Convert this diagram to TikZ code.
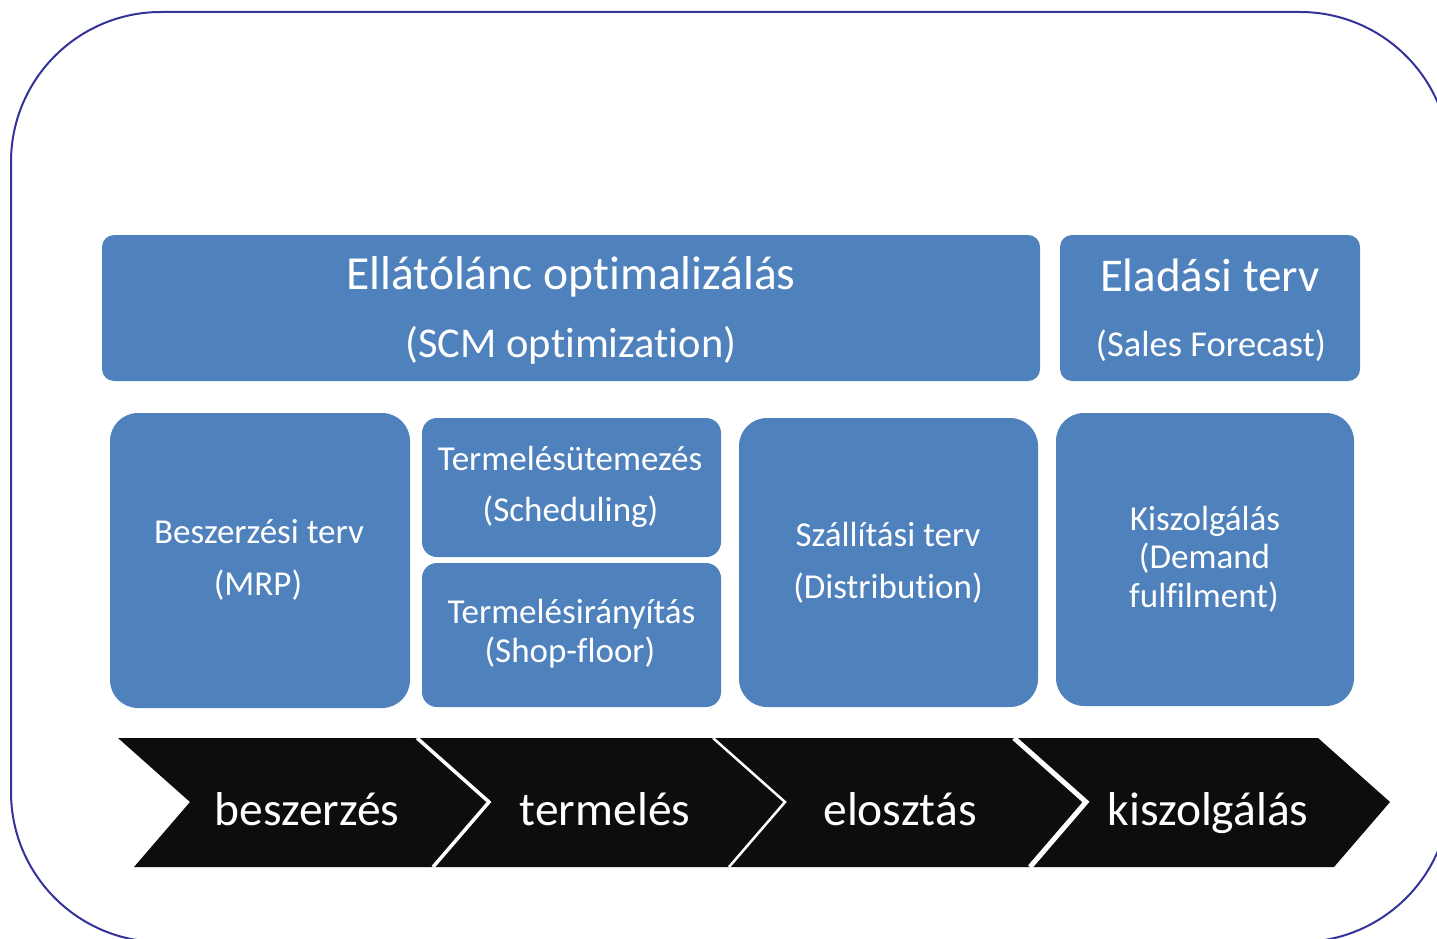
\documentclass[tikz,border=0pt]{standalone}
\usepackage{fontspec}
\setmainfont{Carlito}[RawFeature={-liga;-clig}]
\definecolor{boxblue}{HTML}{4F81BD}
\definecolor{rimblue}{HTML}{333399}
\definecolor{chevblack}{HTML}{0D0D0D}
\begin{document}
\begin{tikzpicture}[x=1pt,y=-1pt,
  box/.style={fill=boxblue, draw=none, inner sep=0pt},
  lbl/.style={text=white, anchor=base, inner sep=0pt},
  big/.style={font=\fontsize{47.5}{50}\selectfont},
  mid/.style={font=\fontsize{35}{38}\selectfont},
  chevshape/.style={fill=chevblack, draw=none},
  sep/.style={draw=white, line join=miter},
  rim/.style={draw=rimblue, line width=2pt, rounded corners=150pt}
]
\useasboundingbox (0,0) rectangle (1437,939);
\fill[white] (0,0) rectangle (1437,939);
\begin{scope}
  \clip (0,0) rectangle (1437,939);
  \draw[rim] (11,12) rectangle (1450,942);
\end{scope}

% top row
\node[box, rounded corners=12pt, minimum width=938pt, minimum height=146pt] (scm) at (571,308) {};
\node[box, rounded corners=12pt, minimum width=300pt, minimum height=146pt] (sales) at (1210,308) {};
\node[lbl, big] (scm1) at (571,289) {Ellátólánc optimalizálás};
\node[lbl, font=\fontsize{42.5}{45}\selectfont] (scm2) at (571,357) {(SCM optimization)};
\node[lbl, font=\fontsize{47}{50}\selectfont] (sales1) at (1210,291) {Eladási terv};
\node[lbl, font=\fontsize{36.5}{40}\selectfont] (sales2) at (1211,356) {(Sales Forecast)};

% middle row
\node[box, rounded corners=28pt, minimum width=300pt, minimum height=295pt] (mrp) at (260,560.5) {};
\node[box, rounded corners=15pt, minimum width=299pt, minimum height=139pt] (sched) at (571.5,487.5) {};
\node[box, rounded corners=15pt, minimum width=299pt, minimum height=144pt] (shop) at (571.5,635) {};
\node[box, rounded corners=28pt, minimum width=299pt, minimum height=289pt] (distr) at (888.5,562.5) {};
\node[box, rounded corners=28pt, minimum width=298pt, minimum height=293pt] (dem) at (1205,559.5) {};

\node[lbl, mid] (mrp1) at (259,543) {Beszerzési terv};
\node[lbl, mid] (mrp2) at (258,595) {(MRP)};
\node[lbl, mid] (sched1) at (570,470) {Termelésütemezés};
\node[lbl, mid] (sched2) at (570.5,521) {(Scheduling)};
\node[lbl, mid] (shop1) at (571.5,623) {Termelésirányítás};
\node[lbl, mid] (shop2) at (570,662) {(Shop-floor)};
\node[lbl, mid] (distr1) at (888,546) {Szállítási terv};
\node[lbl, mid] (distr2) at (888,598) {(Distribution)};
\node[lbl, mid] (dem1) at (1205,530) {Kiszolgálás};
\node[lbl, mid] (dem2) at (1204.5,568) {(Demand};
\node[lbl, mid] (dem3) at (1204,607) {fulfilment)};

% chevrons
\foreach \a/\b in {118/417, 417/713, 713/1014, 1014/1318} {
  \path[chevshape] (\a,738) -- (\b,738) -- ({\b+72},802) -- ({\b+16},867)
     -- ({\a+16},867) -- ({\a+72},802) -- cycle;
}
\foreach \b/\w in {417/3.5, 713/2.5, 1014/5} {
  \draw[sep, line width=\w pt] (\b,738) -- ({\b+72},802) -- ({\b+16},867);
}
\node[lbl, big] (ch1) at (307,825) {beszerzés};
\node[lbl, big] (ch2) at (605,825) {termelés};
\node[lbl, big] (ch3) at (900,825) {elosztás};
\node[lbl, big] (ch4) at (1208,825) {kiszolgálás};
\end{tikzpicture}
\end{document}
